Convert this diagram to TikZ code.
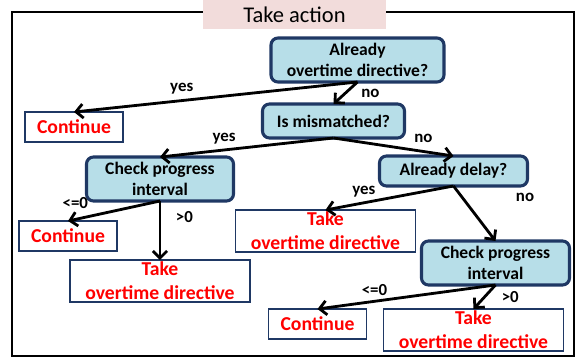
\documentclass[tikz,border=0pt]{standalone}
\usepackage{fontspec}
\setsansfont{Carlito}
\usepackage{xcolor}
\usepackage{tikz}
\usetikzlibrary{arrows.meta, positioning}
\definecolor{navy}{HTML}{1F3864}
\definecolor{skyfill}{HTML}{B7DEE8}
\definecolor{alert}{HTML}{FF0000}
\definecolor{bannerbg}{HTML}{F2DCDB}

\begin{document}
\begin{tikzpicture}[
  font=\sffamily\bfseries,
  decide/.style={rectangle, rounded corners=5pt, draw=navy, line width=2.2pt, fill=skyfill,
                 align=center, inner sep=0pt, outer sep=0pt,
                 font=\sffamily\bfseries\fontsize{12.5}{15.5}\selectfont},
  outbox/.style={rectangle, draw=navy, line width=1.4pt, fill=white, text=alert,
                 align=center, inner sep=0pt, outer sep=0pt,
                 font=\sffamily\bfseries\fontsize{14}{16.7}\selectfont},
  contbox/.style={outbox, minimum width=2.45cm, minimum height=0.75cm},
  takebox/.style={outbox, minimum width=4.5cm, minimum height=1.04cm},
  arr/.style={-{Straight Barb[length=5pt,width=10pt]}, line width=2pt},
  labl/.style={font=\sffamily\bfseries\fontsize{12}{14}\selectfont},
  banner/.style={rectangle, fill=bannerbg, minimum width=4.575cm, minimum height=0.725cm,
                 inner sep=0pt, font=\sffamily\fontsize{16}{18}\selectfont},
  node distance=0.6cm and 1cm
]
  \useasboundingbox (-8.9375,-7.45) rectangle (5.4625,1.5);
  \draw[line width=1.4pt] (-8.6375,-7.4) rectangle (5.4125,1.2);
  \node[banner] (ttl) at (-1.575,1.1375) {Take action};

  \node[decide, minimum width=4.325cm, minimum height=1.1cm] (ot) {Already\\overtime directive?};
  \node[contbox, below left=0.75cm and 3.7cm of ot] (c1) {Continue};
  \node[decide, minimum width=3.55cm, minimum height=0.85cm, below=0.55cm of ot, xshift=-0.6cm] (mm) {Is mismatched?};

  \node[decide, minimum width=3.675cm, minimum height=1.1cm, below left=0.475cm and 0.725cm of mm] (cp1) {Check progress\\interval};
  \node[decide, minimum width=3.7cm, minimum height=0.75cm, below=0.45cm of mm, xshift=3cm] (dl) {Already delay?};

  \node[contbox, below=0.5cm of cp1, xshift=-2.3cm] (c2) {Continue};
  \node[takebox, below=1.475cm of cp1] (t1) {Take\\overtime directive};
  \node[takebox, below=0.6cm of dl, xshift=-3.2cm] (t2) {Take\\overtime directive};
  \node[decide, minimum width=3.7cm, minimum height=1.1cm, below=1.375cm of dl, xshift=1.05cm] (cp2) {Check progress\\interval};

  \node[contbox, below left=0.6cm and 1.375cm of cp2] (c3) {Continue};
  \node[takebox, below=0.6cm of cp2, xshift=-0.55cm] (t3) {Take\\overtime directive};

  \draw[arr] (ot.south) -- (c1.north) node[labl, pos=0.62, above] {yes};
  \draw[arr] (ot.south) -- (mm.north) node[labl, midway, right=7pt] {no};
  \draw[arr] (mm.south) -- (cp1.north) node[labl, pos=0.63, above] {yes};
  \draw[arr] (mm.south) -- (dl.north) node[labl, pos=0.75, above=2pt] {no};
  \draw[arr] (cp1.south) -- (c2.north) node[labl, pos=0.92, above=3pt] {<=0};
  \draw[arr] (cp1.south) -- (t1.north) node[labl, pos=0.28, right=7pt] {>0};
  \draw[arr] (dl.south) -- (t2.north) node[labl, pos=0.7, above] {yes};
  \draw[arr] (dl.south) -- (cp2.north) node[labl, pos=0.2, right=1.2cm] {no};
  \draw[arr] (cp2.south) -- (c3.north) node[labl, pos=0.68, above] {<=0};
  \draw[arr] (cp2.south) -- (t3.north) node[labl, midway, right=8pt] {>0};
\end{tikzpicture}
\end{document}
